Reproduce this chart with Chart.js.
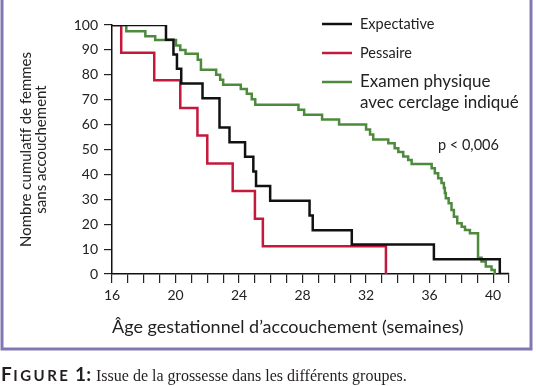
<!DOCTYPE html>
<html>
<head>
<meta charset="utf-8">
<script src="https://cdn.jsdelivr.net/npm/chart.js@4.4.0/dist/chart.umd.min.js"></script>
<style>
  body { margin: 0; background: #fff; }
  #wrap { width: 536px; height: 386px; position: relative; }
</style>
</head>
<body>
<div id="wrap"><canvas id="kmChart"></canvas></div>
<script>
// Week at which each curve steps down, and the level it drops to
const expWeeks = [16, 19.4, 19.87, 20.09, 20.36, 21.7, 22.77, 23.4, 24.38, 24.9, 25.07, 25.96, 28.44, 28.64, 31.1, 36.27, 40.42, 41];
const expPct   = [100, 94.1, 88.2, 82.4, 76.5, 70.6, 58.8, 52.9, 47.1, 41.2, 35.3, 29.4, 23.5, 17.6, 11.8, 5.9, 0, 0];

const pesWeeks = [16, 16.58, 18.66, 20.3, 21.38, 22.0, 23.6, 25.0, 25.5, 33.25];
const pesPct   = [100, 88.9, 77.8, 66.7, 55.6, 44.4, 33.3, 22.2, 11.1, 0];

const cerWeeks = [16, 16.9, 18.1, 18.72, 20.03, 20.3, 20.63, 21.4, 21.6, 22.56, 22.81, 23.0, 24.11, 24.49, 24.8, 25.02,
                  27.74, 28.1, 29.23, 30.3, 32.0, 32.25, 32.45, 33.4, 33.8, 34.03, 34.34, 34.65, 34.87,
                  36.13, 36.33, 36.54, 36.75, 36.9, 36.96, 37.02, 37.2, 37.38, 37.53, 37.74, 38.02, 38.23, 38.54,
                  39.05, 39.27, 39.54, 39.9, 40.1];
const cerPct   = [100, 97.5, 95.5, 94, 91.8, 90, 88.5, 86, 82, 80, 78, 76, 74.3, 72.4, 70.2, 68,
                  66, 64, 62, 60, 58, 56, 54, 52.5, 50.5, 49, 47.2, 45.8, 44.2,
                  42.5, 40.5, 38.5, 36.5, 34.5, 32.5, 30.4, 28.4, 25.7, 23, 20.4, 19, 17.7, 16.4,
                  6.5, 5, 3, 1.6, 0];

const seriesLabels = ['Expectative', 'Pessaire', ['Examen physique', 'avec cerclage indiqué']];
const seriesColors = ['#111111', '#c4183c', '#4d8a3c'];

const yTickStep = 10;
const xLabelEvery = 4;
const pValueText = 'p < 0,006';
const xTitle = 'Âge gestationnel d’accouchement (semaines)';
const yTitle = ['Nombre cumulatif de femmes', 'sans accouchement'];

function toPoints(weeks, pct) {
    return weeks.map((w, i) => ({ x: w, y: pct[i] }));
}

// frame, legend, p value and caption
const decorPlugin = {
    id: 'decor',
    beforeDraw(chart) {
    const ctx = chart.ctx;
    ctx.save();
    ctx.fillStyle = '#fff';
    ctx.fillRect(0, 0, chart.width, chart.height);
    ctx.restore();
    },
    afterDraw(chart) {
    const ctx = chart.ctx;
    ctx.save();

    ctx.strokeStyle = '#8078b3';
    ctx.lineWidth = 3;
    ctx.strokeRect(2, -10, 529, 359);

    const rows = [24, 53, 82];
    chart.data.datasets.forEach((ds, i) => {
        const y = rows[i];
        ctx.strokeStyle = ds.borderColor;
        ctx.lineWidth = 2.5;
        ctx.beginPath();
        ctx.moveTo(322, y);
        ctx.lineTo(352, y);
        ctx.stroke();
        ctx.fillStyle = '#222';
        ctx.textBaseline = 'middle';
        ctx.textAlign = 'left';
        ctx.font = (i === 2 ? '17px' : '14.5px') + ' Lato';
        [].concat(seriesLabels[i]).forEach((t, j) => ctx.fillText(t, 360, y + j * 21));
    });

    ctx.font = '14.5px Lato';
    ctx.fillText(pValueText, 438, 145);

    // caption, small caps label then serif text
    ctx.fillStyle = '#231f20';
    ctx.textBaseline = 'alphabetic';
    let x = 1;
    const base = 381;
    ctx.font = 'bold 19px Lato';
    ctx.fillText('F', x, base); x += ctx.measureText('F').width + 1.5;
    ctx.font = 'bold 15px Lato';
    ctx.letterSpacing = '2.5px';
    ctx.fillText('IGURE', x, base); x += ctx.measureText('IGURE').width;
    ctx.letterSpacing = '0px';
    ctx.font = 'bold 19px Lato';
    ctx.fillText(' 1:', x, base); x += ctx.measureText(' 1:').width + 5;
    ctx.font = '16px "Liberation Serif"';
    ctx.fillText('Issue de la grossesse dans les différents groupes.', x, base);
    ctx.restore();
    }
};

const ctx = document.getElementById('kmChart').getContext('2d');
const kmChart = new Chart(ctx, {
    type: 'line',
    data: {
    datasets: [
        { label: seriesLabels[0], data: toPoints(expWeeks, expPct), borderColor: seriesColors[0] },
        { label: seriesLabels[1], data: toPoints(pesWeeks, pesPct), borderColor: seriesColors[1] },
        { label: seriesLabels[2].join(' '), data: toPoints(cerWeeks, cerPct), borderColor: seriesColors[2] }
    ].map(d => Object.assign(d, { stepped: 'before', borderWidth: 2.5, pointRadius: 0, fill: false }))
    },
    options: {
    responsive: true,
    maintainAspectRatio: false,
    animation: false,
    layout: { padding: { left: 0, top: 25, right: 27, bottom: 34 } },
    plugins: {
        legend: { display: false },
        tooltip: { enabled: false }
    },
    scales: {
        x: {
        type: 'linear',
        min: 16,
        max: 41,
        afterFit: s => { s.height = 78; },
        border: { color: '#111', width: 1.5 },
        grid: { drawOnChartArea: false, tickLength: 9, color: '#222', lineWidth: 1.2 },
        ticks: {
            stepSize: 1,
            autoSkip: false,
            maxRotation: 0,
            padding: 4,
            color: '#222',
            font: { family: 'Lato', size: 14 },
            callback: v => ((v - 16) % xLabelEvery === 0 ? v : '')
        },
        title: {
            display: true,
            text: xTitle,
            align: 'start',
            color: '#222',
            font: { family: 'Lato', size: 18 },
            padding: { top: 0, bottom: 14 }
        }
        },
        y: {
        min: 0,
        max: 100,
        afterFit: s => { s.width = 112; },
        border: { color: '#111', width: 1.5 },
        grid: { drawOnChartArea: false, tickLength: 8, color: '#222', lineWidth: 1.2 },
        ticks: {
            stepSize: yTickStep,
            padding: 6,
            color: '#222',
            font: { family: 'Lato', size: 14 }
        },
        title: {
            display: true,
            text: yTitle,
            color: '#222',
            font: { family: 'Lato', size: 15, lineHeight: 1 },
            padding: { top: 19, bottom: 0 }
        }
        }
    }
    },
    plugins: [decorPlugin]
});
</script>
</body>
</html>
